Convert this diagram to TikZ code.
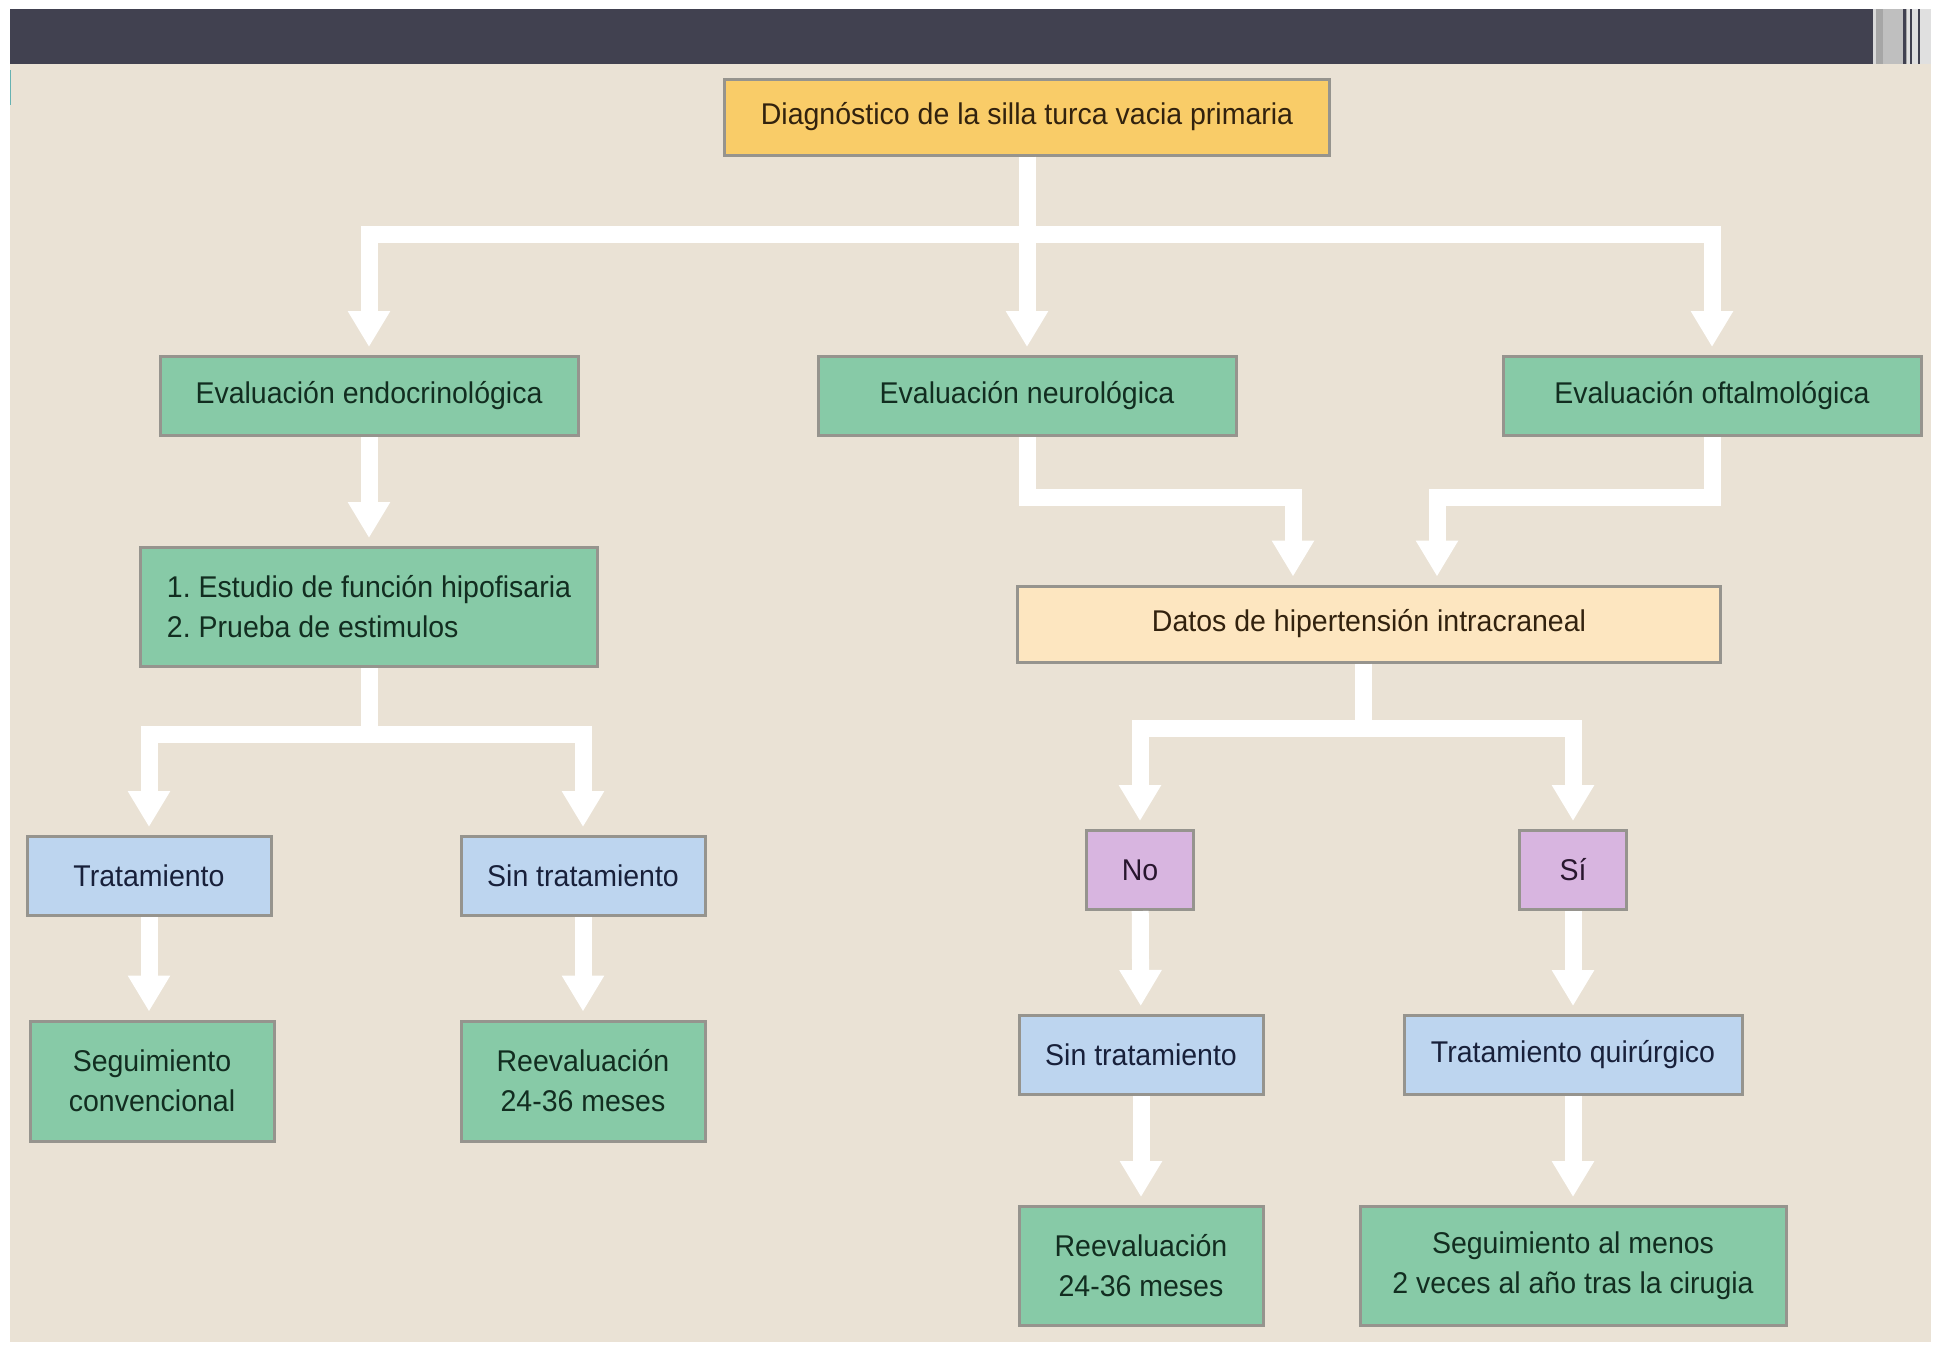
\documentclass[tikz,border=0pt]{standalone}
\usepackage{fontspec}
\setmainfont{Liberation Sans}[FakeStretch=0.95]
\usetikzlibrary{positioning,arrows.meta}

\definecolor{bgbeige}{RGB}{234,226,213}
\definecolor{topbar}{RGB}{65,65,80}
\definecolor{diagyellow}{RGB}{249,204,104}
\definecolor{boxgreen}{RGB}{135,202,167}
\definecolor{boxpeach}{RGB}{253,230,192}
\definecolor{boxblue}{RGB}{189,213,239}
\definecolor{boxpurple}{RGB}{216,181,224}
\definecolor{boxline}{RGB}{150,148,142}
\definecolor{textbrown}{RGB}{50,34,14}
\definecolor{textgreen}{RGB}{18,45,32}
\definecolor{textnavy}{RGB}{24,32,58}
\definecolor{textplum}{RGB}{40,22,46}

\begin{document}
\begin{tikzpicture}[x=1pt,y=-1pt,>={Triangle[width=40pt,length=36pt]},
  flow/.style={->,draw=white,line width=17pt,shorten >=8pt},
  main node/.style={rectangle,draw=boxline,line width=3pt,inner sep=0pt,align=center,
    font=\fontsize{30}{40}\selectfont,minimum height=79pt},
  yellow node/.style={main node,fill=diagyellow,text=textbrown},
  peach node/.style={main node,fill=boxpeach,text=textbrown},
  green node/.style={main node,fill=boxgreen,text=textgreen},
  blue node/.style={main node,fill=boxblue,text=textnavy},
  purple node/.style={main node,fill=boxpurple,text=textplum}]
  \useasboundingbox (0,0) rectangle (1934,1344);
  % background and title bar
  \fill[bgbeige] (10,64) rectangle (1931,1342);
  \fill[topbar] (10,9) rectangle (1873,64);
  \fill[black!35] (1873,9) rectangle (1931,64);
  \foreach \sx/\sw/\sc in {1873/3/black!15,1883/20/black!25,1907/24/black!12,1903/3/topbar,1910/2/topbar,1918/2/topbar}
    \fill[\sc] (\sx,9) rectangle ++(\sw,55);
  \draw[teal!60,line width=1.5pt] (10.5,70) -- (10.5,105);

  % nodes
  \node[yellow node,minimum width=605pt,minimum height=76pt] (1) at (1027,117) {Diagnóstico de la silla turca vacia primaria};
  \node[green node,minimum width=418pt] (2) at (369,396) {Evaluación endocrinológica};
  \node[green node,minimum width=418pt] (3) at (1027,396) {Evaluación neurológica};
  \node[green node,minimum width=418pt] (4) at (1712,396) {Evaluación oftalmológica};
  \node[green node,minimum width=457pt,minimum height=119pt,align=left] (5) at (369,607) {1.\ Estudio de función hipofisaria\\2.\ Prueba de estimulos\phantom{iiiiiiiiiiiiiii}};
  \node[peach node,minimum width=703pt,minimum height=76pt] (6) at (1369,624) {Datos de hipertensión intracraneal};
  \node[blue node,minimum width=244pt] (7) at (149,876) {Tratamiento};
  \node[blue node,minimum width=244pt] (8) at (583,876) {Sin tratamiento};
  \node[green node,minimum width=244pt,minimum height=120pt] (9) at (152,1081) {Seguimiento\\convencional};
  \node[green node,minimum width=244pt,minimum height=120pt] (10) at (583,1081) {Reevaluación\\24-36 meses};
  \node[purple node,minimum width=107pt] (11) at (1140,870) {No};
  \node[purple node,minimum width=107pt] (12) at (1573,870) {Sí};
  \node[blue node,minimum width=244pt] (13) at (1141,1055) {Sin tratamiento};
  \node[blue node,minimum width=338pt] (14) at (1573,1055) {Tratamiento quirúrgico};
  \node[green node,minimum width=244pt,minimum height=119pt] (15) at (1141,1266) {Reevaluación\\24-36 meses};
  \node[green node,minimum width=426pt,minimum height=119pt] (16) at (1573,1266) {Seguimiento al menos\\2 veces al año tras la cirugia};

  % branch points
  \coordinate (j1) at (1027,234);
  \coordinate (j2) at (369,734);
  \coordinate (j3) at (1293,497);
  \coordinate (j4) at (1437,497);
  \coordinate (j5) at (1363,728);

  % connectors
  \draw[flow] (1) -- (j1) -| (2);
  \draw[flow] (j1) -- (3);
  \draw[flow] (j1) -| (4);
  \draw[flow] (2) -- (5);
  \draw[flow] (5) -- (j2) -| (7);
  \draw[flow] (j2) -| (8);
  \draw[flow] (3) |- (j3) -- (j3 |- 6.north);
  \draw[flow] (4) |- (j4) -- (j4 |- 6.north);
  \draw[flow] (6.south -| j5) -- (j5) -| (11);
  \draw[flow] (j5) -| (12);
  \draw[flow] (7) -- (7 |- 9.north);
  \draw[flow] (8) -- (8 |- 10.north);
  \draw[flow] (11) -- (13);
  \draw[flow] (12) -- (14);
  \draw[flow] (13) -- (15);
  \draw[flow] (14) -- (16);
\end{tikzpicture}
\end{document}
